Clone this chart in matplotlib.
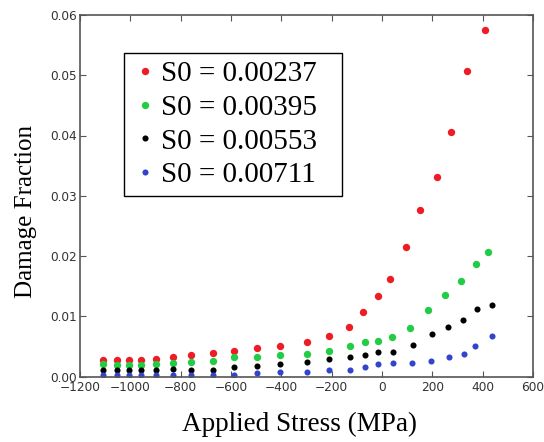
import matplotlib
matplotlib.use("Agg")
import matplotlib.pyplot as plt

labels = ["S0 = 0.00237", "S0 = 0.00395", "S0 = 0.00553", "S0 = 0.00711"]
colors = ["#ee1c24", "#22cc44", "#000000", "#3344cc"]

red_x = [-1110, -1054, -1004, -957, -898, -832, -759, -670, -589, -498, -405, -297, -212, -132, -74, -15, 31, 94, 151, 217, 275, 338, 409]
red_y = [0.00274, 0.00274, 0.00274, 0.00274, 0.00296, 0.00324, 0.0035, 0.0039, 0.0042, 0.0048, 0.0051, 0.0058, 0.0068, 0.0082, 0.0107, 0.0133, 0.0162, 0.0215, 0.0277, 0.0331, 0.0405, 0.0507, 0.0575]

green_x = [-1110, -1054, -1004, -957, -898, -832, -759, -670, -589, -498, -405, -297, -212, -126, -68, -15, 40, 112, 184, 250, 315, 375, 420]
green_y = [0.00202, 0.0019, 0.0019, 0.0019, 0.00202, 0.0022, 0.0024, 0.0025, 0.0032, 0.0033, 0.0035, 0.0037, 0.0043, 0.0050, 0.0057, 0.0059, 0.0066, 0.0081, 0.0110, 0.0135, 0.0159, 0.0186, 0.0207]

black_x = [-1110, -1054, -1004, -957, -898, -832, -759, -670, -589, -498, -405, -297, -212, -126, -68, -15, 45, 122, 197, 261, 321, 379, 437]
black_y = [0.00102, 0.00102, 0.00114, 0.00102, 0.00102, 0.00124, 0.00108, 0.00114, 0.00163, 0.0018, 0.0021, 0.0024, 0.0029, 0.0032, 0.0035, 0.0041, 0.0041, 0.0053, 0.0071, 0.0082, 0.0094, 0.0112, 0.0118]

blue_x = [-1110, -1054, -1004, -957, -898, -832, -759, -670, -589, -498, -405, -297, -212, -126, -68, -15, 45, 118, 193, 265, 325, 371, 437]
blue_y = [0.00025, 0.00025, 0.00025, 0.00025, 0.00025, 0.0003, 0.00025, 0.00025, 0.0003, 0.00053, 0.0007, 0.0008, 0.00102, 0.00108, 0.0015, 0.0021, 0.0023, 0.0022, 0.0026, 0.0032, 0.0038, 0.0050, 0.0068]

x_ticks = [-1200, -1000, -800, -600, -400, -200, 0, 200, 400, 600]
y_ticks = [0.00, 0.01, 0.02, 0.03, 0.04, 0.05, 0.06]

series = [(red_x, red_y), (green_x, green_y), (black_x, black_y), (blue_x, blue_y)]
msizes = [5.3, 5.3, 4.4, 4.4]

fig = plt.figure(figsize=(5.44, 4.42), dpi=100)
ax = fig.add_axes([80/544, 1 - 376.5/442, (533-80)/544, (376.5-15)/442])

for (xs, ys), c, lab, ms in zip(series, colors, labels, msizes):
    ax.plot(xs, ys, 'o', color=c, markersize=ms, markeredgewidth=0, label=lab)

ax.set_xlim(-1200, 600)
ax.set_ylim(0, 0.06)
ax.set_xticks(x_ticks)
ax.set_yticks(y_ticks)
ax.set_xticklabels([f"\u2212{abs(v)}" if v < 0 else str(v) for v in x_ticks])
ax.set_yticklabels([f"{v:.2f}" for v in y_ticks])
ax.tick_params(direction='in', length=4, width=0.8, top=True, right=True,
               labelsize=8.7, labelcolor='#333333', color='#555555', pad=2)
ax.tick_params(axis='x', pad=3)
for s in ax.spines.values():
    s.set_color('#555555')
    s.set_linewidth(1.2)

serif = ['Liberation Serif', 'DejaVu Serif']
ax.set_xlabel("Applied Stress (MPa)", fontsize=19.5, family=serif)
ax.set_ylabel("Damage Fraction", fontsize=18, family=serif)
ax.xaxis.set_label_coords((300-80)/453, (376.5-412)/361.5)
ax.yaxis.set_label_coords((37-80)/453, (376.5-211)/361.5)

leg = ax.legend(loc='upper left',
                bbox_to_anchor=((124-80)/453, 1 - (57-15)/361.5, (342-124)/453, 0.01),
                mode='expand',
                prop={'family': serif, 'size': 21}, frameon=True, fancybox=False,
                edgecolor='black', framealpha=1, handlelength=0.95, handletextpad=0.06,
                labelspacing=0.25, borderpad=0.25, numpoints=1, markerscale=1.0,
                borderaxespad=0)
leg.get_frame().set_linewidth(1.0)

fig.savefig("out.png", dpi=100)
